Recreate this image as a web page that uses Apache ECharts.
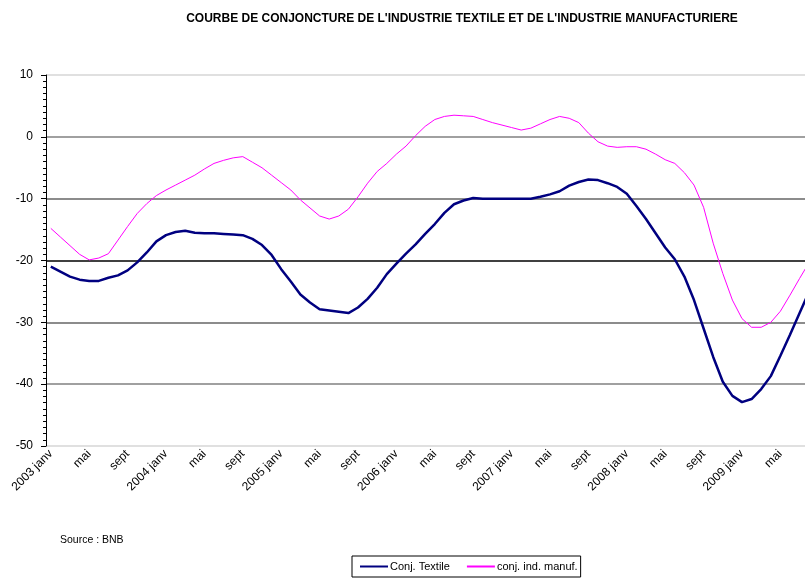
<!DOCTYPE html>
<html>
<head>
<meta charset="utf-8">
<script src="https://cdn.jsdelivr.net/npm/echarts@6/dist/echarts.min.js"></script>
<style>
  html, body { margin: 0; padding: 0; background: #fff; }
  #chart { width: 805px; height: 578px; }
</style>
</head>
<body>
<div id="chart"></div>
<script>
// janv 2003 -> août 2009, un point par mois
const years = [2003, 2004, 2005, 2006, 2007, 2008, 2009];
const months = ['janv', 'févr', 'mars', 'avr', 'mai', 'juin', 'juil', 'août', 'sept', 'oct', 'nov', 'déc'];
const nbMonths = 80;

const conjTextile = [
  -21.0, -21.8, -22.6, -23.1, -23.3, -23.3, -22.8, -22.4, -21.6, -20.3, -18.7, -16.9,
  -15.9, -15.4, -15.2, -15.5, -15.6, -15.6, -15.7, -15.8, -15.9, -16.5, -17.5, -19.1,
  -21.4, -23.4, -25.5, -26.8, -27.9, -28.1, -28.3, -28.5, -27.6, -26.2, -24.4, -22.2,
  -20.5, -18.9, -17.4, -15.7, -14.1, -12.3, -10.9, -10.3, -9.9, -10.0, -10.0, -10.0,
  -10.0, -10.0, -10.0, -9.7, -9.3, -8.8, -7.9, -7.3, -6.9, -7.0, -7.5, -8.1,
  -9.2, -11.2, -13.3, -15.6, -17.9, -19.8, -22.6, -26.4, -31.0, -35.6, -39.6, -41.9,
  -42.9, -42.4, -40.8, -38.7, -35.4, -32.0, -28.5, -25.0
];
const conjManuf = [
  -14.8, -16.2, -17.6, -19.0, -19.9, -19.6, -18.9, -16.7, -14.5, -12.4, -10.8, -9.5,
  -8.6, -7.8, -7.0, -6.2, -5.2, -4.3, -3.8, -3.4, -3.2, -4.1, -5.0, -6.2,
  -7.4, -8.6, -10.2, -11.5, -12.8, -13.3, -12.8, -11.7, -9.7, -7.5, -5.6, -4.3,
  -2.8, -1.5, 0.2, 1.7, 2.8, 3.3, 3.5, 3.4, 3.3, 2.8, 2.3, 1.9,
  1.5, 1.1, 1.4, 2.1, 2.8, 3.3, 3.0, 2.3, 0.6, -0.8, -1.5, -1.7,
  -1.6, -1.6, -2.0, -2.8, -3.7, -4.3, -5.8, -7.8, -11.4, -17.2, -22.1, -26.4,
  -29.4, -30.8, -30.8, -30.0, -28.2, -25.6, -22.9, -20.3
];

const categories = [];
for (let i = 0; i < nbMonths; i++) {
  const m = i % 12;
  categories.push(m === 0 ? years[i / 12] + ' janv' : months[m]);
}

const font = "'Liberation Sans', Arial, sans-serif";

const chart = echarts.init(document.getElementById('chart'));
chart.setOption({
  animation: false,
  backgroundColor: '#fff',
  title: [{
    text: "COURBE DE CONJONCTURE DE L'INDUSTRIE TEXTILE ET DE L'INDUSTRIE MANUFACTURIERE",
    left: 457,
    textAlign: 'center',
    top: 8,
    textStyle: { fontFamily: font, fontSize: 12, fontWeight: 'bold', color: '#000' }
  }, {
    text: 'Source : BNB',
    left: 55,
    top: 530,
    textStyle: { fontFamily: font, fontSize: 10.5, fontWeight: 'normal', color: '#000' }
  }],
  legend: {
    left: 352,
    top: 556,
    padding: [5, 3, 5, 8],
    itemGap: 17,
    itemWidth: 28,
    itemHeight: 2,
    borderColor: '#000',
    borderWidth: 1,
    textStyle: { fontFamily: font, fontSize: 11, color: '#000', padding: [0, 0, 0, -3] },
    data: [
      { name: 'Conj. Textile', icon: 'rect' },
      { name: 'conj. ind. manuf.', icon: 'rect' }
    ]
  },
  // la zone de tracé dépasse le bord droit (image recadrée)
  grid: { left: 46, width: 768, top: 75, bottom: 132, outerBoundsMode: 'none' },
  xAxis: {
    type: 'category',
    data: categories,
    boundaryGap: true,
    axisLine: { show: false },
    axisTick: { show: false },
    splitLine: { show: false },
    axisLabel: {
      interval: 3,
      rotate: 45,
      margin: 6,
      fontFamily: font,
      fontSize: 12,
      color: '#000'
    }
  },
  yAxis: {
    type: 'value',
    min: -50,
    max: 10,
    interval: 10,
    axisLine: { show: true, lineStyle: { color: '#000', width: 1 } },
    axisTick: { show: true, length: 5, lineStyle: { color: '#000' } },
    minorTick: { show: true, splitNumber: 10, length: 3, lineStyle: { color: '#000' } },
    axisLabel: { margin: 13, fontFamily: font, fontSize: 12, color: '#000' },
    splitLine: {
      show: true,
      lineStyle: {
        color: ['#d6d6d6', '#808080', '#666666', '#000000', '#666666', '#808080', '#d6d6d6'],
        width: 1.5
      }
    }
  },
  series: [{
    name: 'Conj. Textile',
    type: 'line',
    data: conjTextile,
    symbol: 'none',
    lineStyle: { color: '#000080', width: 2.5 },
    itemStyle: { color: '#000080' }
  }, {
    name: 'conj. ind. manuf.',
    type: 'line',
    data: conjManuf,
    symbol: 'none',
    lineStyle: { color: '#ff00ff', width: 1 },
    itemStyle: { color: '#ff00ff' }
  }]
});
</script>
</body>
</html>
